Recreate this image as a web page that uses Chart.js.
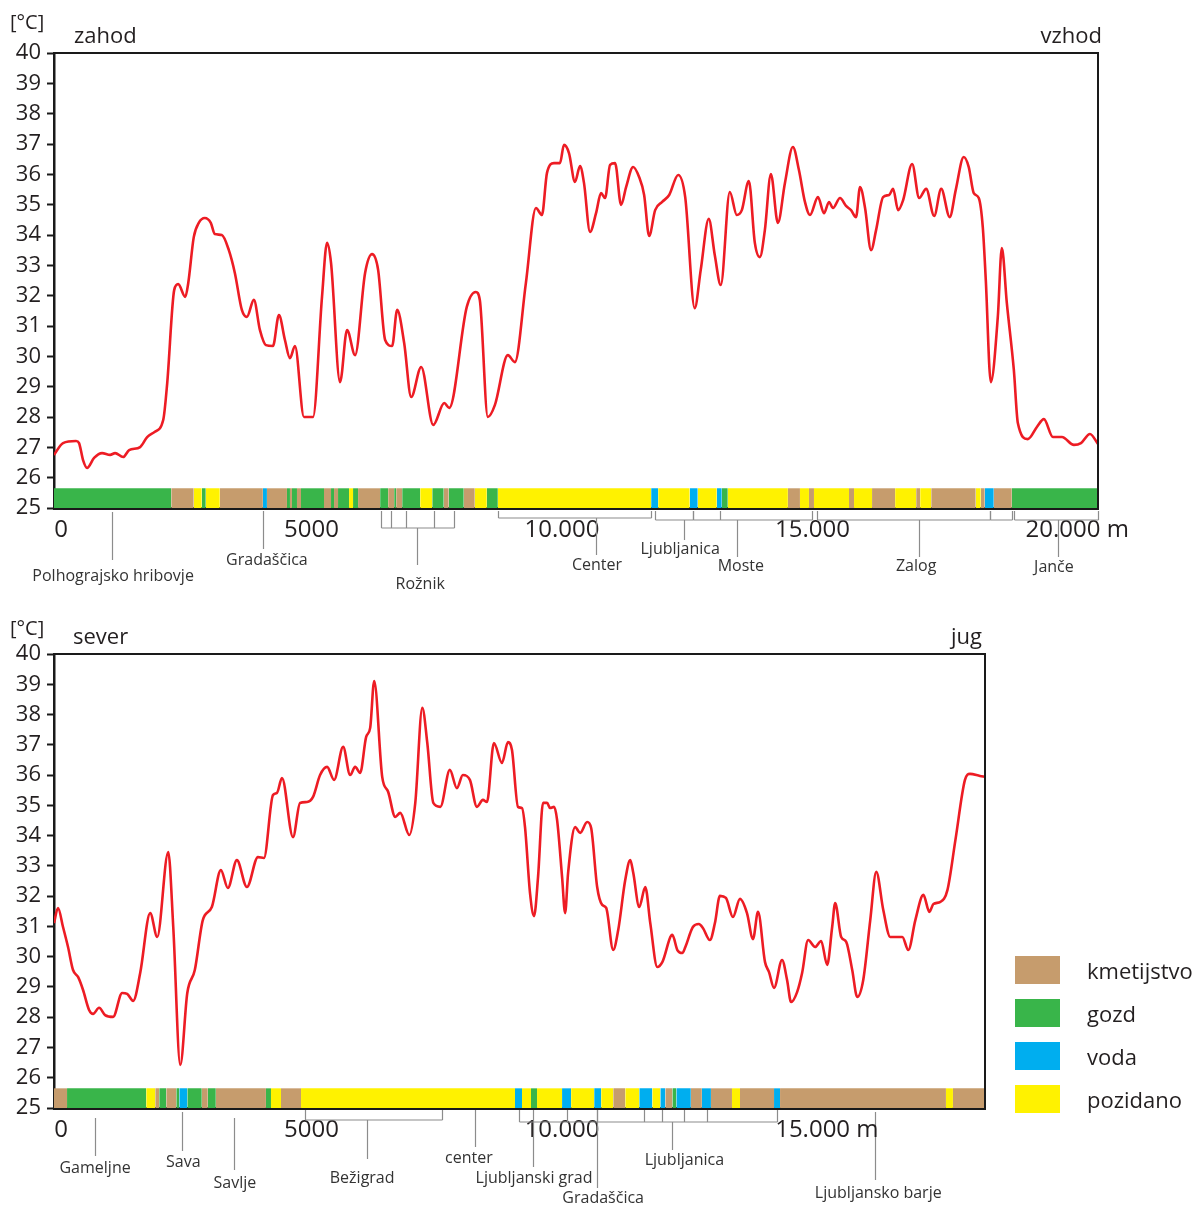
<!DOCTYPE html>
<html><head><meta charset="utf-8">
<script src="https://cdn.jsdelivr.net/npm/chart.js@4.4.1/dist/chart.umd.min.js"></script>
<style>
html,body{margin:0;padding:0;background:#fff;}
body{width:1202px;height:1207px;position:relative;overflow:hidden;font-family:'Open Sans',sans-serif;color:#231f20;}
.wrap{position:absolute;left:0;}
canvas{display:block;}
.t{position:absolute;white-space:nowrap;line-height:1;}
.lg{position:absolute;left:1015px;width:45px;height:28px;}
</style></head>
<body>
<div class="wrap" style="top:0"><canvas id="chartTop" width="1202" height="600"></canvas></div>
<div class="wrap" style="top:600px"><canvas id="chartBot" width="1202" height="607"></canvas></div>

<div class="t" style="left:10px;top:12px;font-size:20px;">[°C]</div>
<div class="t" style="left:74px;top:23px;font-size:22px;">zahod</div>
<div class="t" style="right:100px;top:23px;font-size:22px;">vzhod</div>
<div class="t" style="left:10px;top:618px;font-size:20px;">[°C]</div>
<div class="t" style="left:73px;top:624px;font-size:22px;">sever</div>
<div class="t" style="right:220px;top:624px;font-size:22px;">jug</div>

<div id="legend"></div>

<script>
// ---------------- DATA ----------------
// West–east transect (zahod – vzhod): distance [m], surface temperature [°C]
const topDist = [-140,40,300,360,440,520,660,820,980,1080,
1240,1360,1580,1720,1860,2040,2120,2260,2340,2480,
2540,2650,2750,2870,2990,3070,3210,3350,3470,3610,
3710,3850,3970,4090,4230,4350,4470,4570,4670,4850,
5030,5210,5310,5390,5570,5710,5870,6070,6210,6330,
6470,6610,6710,6850,6990,7190,7430,7650,7750,8100,
8280,8360,8520,8660,8920,9060,9280,9480,9600,9700,
9840,9960,10040,10140,10260,10360,10440,10560,10680,10780,
10860,10960,11060,11180,11280,11420,11540,11640,11740,11860,
12000,12140,12320,12460,12650,12770,12930,13050,13170,13350,
13490,13590,13730,13850,13950,14050,14170,14310,14450,14610,
14730,14850,14950,15110,15230,15330,15410,15550,15670,15770,
15870,15950,16050,16170,16270,16410,16530,16610,16710,16810,
16990,17130,17270,17430,17570,17740,17860,18020,18120,18220,
18320,18400,18460,18560,18700,18780,18880,19020,19100,19300,
19480,19620,19800,19980,20220,20360,20540,20700];
const topTemp = [26.75,27.14,27.21,27.14,26.58,26.32,26.65,26.81,26.75,26.81,
26.68,26.91,27.01,27.34,27.5,27.9,29.12,32.19,32.38,31.96,
32.42,33.93,34.4,34.56,34.4,34.03,34.0,33.5,32.75,31.53,
31.3,31.86,30.87,30.37,30.34,31.36,30.54,29.94,30.34,28.0,
28.0,31.96,33.74,33.08,29.15,30.87,30.04,32.75,33.37,32.85,
30.54,30.34,31.53,30.44,28.66,29.65,27.74,28.46,28.3,31.63,
32.12,31.86,28.0,28.39,30.04,29.81,32.42,34.89,34.66,36.04,
36.37,36.37,36.97,36.7,35.75,36.27,35.71,34.1,34.72,35.38,
35.22,36.31,36.37,34.99,35.58,36.24,35.91,35.32,33.97,34.82,
35.09,35.32,35.98,35.25,31.59,32.85,34.53,33.34,32.35,35.42,
34.66,34.82,35.78,33.74,33.27,34.16,36.01,34.4,35.71,36.9,
36.14,35.09,34.66,35.25,34.72,35.09,34.89,35.22,34.96,34.82,
34.59,35.58,34.89,33.5,34.16,35.25,35.32,35.52,34.82,35.15,
36.34,35.22,35.52,34.63,35.52,34.59,35.48,36.57,36.24,35.38,
35.22,34.26,32.52,29.15,31.3,33.57,31.76,29.55,27.8,27.27,
27.67,27.93,27.34,27.34,27.08,27.14,27.44,27.11];

// North–south transect (sever – jug)
const botDist = [-140,-60,40,140,240,340,440,560,640,760,
880,1040,1220,1320,1440,1580,1780,1920,2140,2240,
2380,2520,2670,2830,3010,3190,3330,3510,3710,3930,
4050,4230,4310,4410,4630,4770,4910,5030,5170,5310,
5450,5630,5770,5870,5970,6090,6170,6250,6410,6530,
6670,6770,6950,7070,7210,7310,7430,7570,7760,7900,
8020,8160,8300,8420,8500,8640,8800,8920,9000,9120,
9200,9260,9360,9440,9520,9620,9700,9760,9840,9900,
10000,10060,10120,10260,10360,10500,10580,10700,10800,10880,
11020,11120,11260,11360,11420,11540,11660,11760,11900,12000,
12200,12300,12400,12460,12610,12730,12810,12950,13050,13150,
13270,13410,13550,13690,13810,13910,14050,14130,14230,14390,
14490,14570,14690,14790,14910,15050,15170,15290,15390,15450,
15570,15670,15790,15890,16010,16150,16270,16410,16550,16690,
16790,16910,17050,17210,17330,17410,17550,17690,17850,18040,
18140,18340,18440];
const botTemp = [31.11,31.61,30.98,30.32,29.56,29.33,28.9,28.24,28.11,28.31,
28.07,28.01,28.8,28.77,28.54,29.46,31.44,30.65,33.46,30.98,
26.42,28.8,29.56,31.21,31.64,32.86,32.27,33.19,32.3,33.29,
33.26,35.34,35.41,35.9,33.95,35.08,35.11,35.28,36.0,36.27,
35.84,36.93,36.0,36.27,36.07,37.26,37.56,39.11,35.94,35.44,
34.62,34.75,34.02,35.08,38.22,37.06,35.08,34.95,36.17,35.57,
36.0,35.84,34.95,35.18,35.11,37.06,36.4,37.09,36.83,34.95,
34.91,34.28,32.1,31.34,32.63,35.08,35.08,34.91,34.95,34.52,
32.63,31.44,32.77,34.28,34.09,34.45,34.25,32.3,31.71,31.61,
30.22,30.88,32.53,33.19,32.77,31.64,32.3,31.11,29.66,29.82,
30.72,30.22,30.12,30.32,30.98,31.08,30.95,30.55,31.11,32.01,
31.94,31.31,31.91,31.44,30.58,31.48,29.82,29.49,28.97,29.89,
29.23,28.5,28.83,29.46,30.55,30.32,30.52,29.73,30.98,31.77,
30.65,30.49,29.56,28.67,29.23,31.21,32.8,31.54,30.65,30.65,
30.65,30.22,31.21,32.04,31.48,31.74,31.81,32.2,33.86,35.84,
36.04,35.97,35.94];

// Land use strips: boundaries [m] and class code per segment
// k = kmetijstvo, g = gozd, v = voda, p = pozidano
const topLandEdges = [-140,2200,2650,2810,2890,3170,4030,4110,4510,4570,4610,4710,4790,5250,5390,5450,5530,5750,5830,5930,6370,6530,6650,6690,6810,7170,7410,7640,7740,8040,8260,8500,8720,11780,11920,12550,12710,13090,13190,13310,14510,14750,14930,15030,15730,15830,16190,16650,17070,17150,17370,18260,18360,18440,18620,18980,20700];
const topLandUse = ['g','k','p','g','p','k','v','k','g','k','g','k','g','k','g','k','g','p','g','k','g','k','g','k','g','p','g','k','g','k','p','g','p','v','p','v','p','v','g','p','k','p','k','p','k','p','k','p','k','p','k','p','k','v','k','g'];
const botLandEdges = [-140,120,1700,1880,1960,2100,2300,2360,2520,2810,2930,3090,4090,4190,4390,4790,9060,9200,9380,9500,10000,10180,10640,10780,11020,11260,11540,11800,11960,12060,12200,12280,12570,12790,12970,13390,13550,14230,14350,17660,17800,18440];
const botLandUse = ['k','g','p','k','g','k','g','v','g','k','g','k','g','p','k','p','v','p','g','p','v','p','v','p','k','p','v','p','v','k','g','v','k','v','k','p','k','v','k','p','k'];

const landCodes = ['k','g','v','p'];
const landNames = ['kmetijstvo','gozd','voda','pozidano'];
const landColors = {k:'#C69C6D', g:'#39B54A', v:'#00AEEF', p:'#FFF200'};

const yTicks = [25,26,27,28,29,30,31,32,33,34,35,36,37,38,39,40];
const topXTicks = [0,5000,10000,15000,20000];
const topXLabels = ['0','5000','10.000','15.000','20.000'];
const botXTicks = [0,5000,10000,15000];
const botXLabels = ['0','5000','10.000','15.000'];
const xUnit = ' m';

// place-name annotations (positions along transect in m)
const topMarks = [
 {label:'Polhograjsko hribovje', lx:1040, ly:68, stem:1020, s:[4,52]},
 {label:'Gradaščica', lx:4110, ly:52, stem:4030, s:[3,41]},
 {label:'Rožnik', lx:7170, ly:76, stem:7110, s:[20,57], br:[6390,7840], bt:[6590,6890,7450], b:[3,20]},
 {label:'Center', lx:10700, ly:57, stem:10680, s:[10,47], br:[8720,11780], b:[3,10]},
 {label:'Ljubljanica', lx:12360, ly:41, stem:12440, s:[12,32], br:[11860,12620], b:[3,12]},
 {label:'Moste', lx:13570, ly:58, stem:13490, s:[12,49], br:[12620,14990], bt:[13150], b:[3,12]},
 {label:'Zalog', lx:17070, ly:58, stem:17130, s:[12,49], br:[15090,18540], b:[3,12]},
 {label:'', br:[18540,18980], b:[3,12]},
 {label:'Janče', lx:19820, ly:59, stem:19900, s:[12,49], br:[19020,20700], b:[3,12]}
];
const botMarks = [
 {label:'Gameljne', lx:680, ly:60, stem:680, s:[10,48]},
 {label:'Sava', lx:2440, ly:54, stem:2420, s:[4,43]},
 {label:'Savlje', lx:3470, ly:75, stem:3450, s:[10,62]},
 {label:'Bežigrad', lx:6010, ly:70, stem:6110, s:[12,51], br:[4870,7600], b:[2,12]},
 {label:'center', lx:8140, ly:50, stem:8260, s:[2,39]},
 {label:'', br:[9140,14290], bt:[10100,10700,11640,12000,12440,12890], b:[2,14]},
 {label:'Ljubljanski grad', lx:9440, ly:70, stem:9420, s:[2,59]},
 {label:'Gradaščica', lx:10820, ly:90, stem:10700, s:[2,80]},
 {label:'Ljubljanica', lx:12440, ly:52, stem:12200, s:[14,42]},
 {label:'Ljubljansko barje', lx:16310, ly:85, stem:16250, s:[4,72]}
];

// ---------------- CHARTS ----------------
const STRIP_TOP = 25.65;
const FONT = "'Open Sans', sans-serif";
const TXT = '#231f20';

function framePlugin(){
  return {id:'frame', afterDatasetsDraw(chart){
    const {ctx, chartArea:a} = chart;
    ctx.save(); ctx.strokeStyle='#1a1a1a'; ctx.lineWidth=2;
    ctx.beginPath(); ctx.moveTo(a.left,a.top); ctx.lineTo(a.right,a.top); ctx.lineTo(a.right,a.bottom); ctx.stroke();
    ctx.restore();
  }};
}
function marksPlugin(marks){
  return {id:'marks', afterDraw(chart){
    const {ctx} = chart; const xs = chart.scales.x; const y0 = chart.chartArea.bottom;
    const P = v => Math.round(xs.getPixelForValue(v)) + 0.5;
    ctx.save();
    ctx.strokeStyle='#8c8c8c'; ctx.lineWidth=1.2;
    marks.forEach(m=>{
      if (m.br){
        const a=P(m.br[0]), b=P(m.br[1]);
        ctx.beginPath();
        [m.br[0], ...(m.bt||[]), m.br[1]].forEach(v=>{ const x=P(v); ctx.moveTo(x,y0+m.b[0]); ctx.lineTo(x,y0+m.b[1]); });
        ctx.moveTo(a,y0+m.b[1]); ctx.lineTo(b,y0+m.b[1]);
        ctx.stroke();
      }
      if (m.stem!==undefined){
        const x=P(m.stem); ctx.beginPath(); ctx.moveTo(x,y0+m.s[0]); ctx.lineTo(x,y0+m.s[1]); ctx.stroke();
      }
      if (m.label){
        ctx.fillStyle='#333'; ctx.font="16px "+FONT; ctx.textAlign='center'; ctx.textBaseline='middle';
        ctx.fillText(m.label, xs.getPixelForValue(m.lx), y0+m.ly);
      }
    });
    // unit after last x tick label
    const items = xs._labelItems || xs.getLabelItems(chart.chartArea);
    const it = items[items.length-1];
    if (it){
      ctx.font = it.font.string; ctx.fillStyle=TXT;
      const w = ctx.measureText(it.label).width;
      ctx.textAlign='left'; ctx.textBaseline=it.options.textBaseline;
      ctx.fillText(xUnit, it.options.translation[0]+w/2, it.options.translation[1]+it.textOffset);
    }
    ctx.restore();
  }};
}

function makeChart(id, dist, temp, edges, uses, xMax, xTicks, xLabels, marks, pad){
  const datasets = [{
    type:'line', data: dist.map((d,i)=>({x:d, y:temp[i]})),
    borderColor:'#ED1C24', borderWidth:2.6, pointRadius:0, cubicInterpolationMode:'monotone',
    fill:false, order:0
  }];
  for (let i=0;i<uses.length;i++){
    datasets.push({type:'line', data:[{x:edges[i],y:STRIP_TOP},{x:edges[i+1],y:STRIP_TOP}],
      borderWidth:0, borderColor:'rgba(0,0,0,0)', pointRadius:0, tension:0,
      fill:{value:25}, backgroundColor:landColors[uses[i]], order:1});
  }
  return new Chart(document.getElementById(id), {
    type:'line',
    data:{datasets},
    options:{
      responsive:false, animation:false, devicePixelRatio:1,
      layout:{padding:{left:0, top:pad.top, right:pad.right, bottom:0}},
      plugins:{legend:{display:false}, tooltip:{enabled:false}},
      events:[],
      scales:{
        x:{type:'linear', min:-140, max:xMax,
           afterBuildTicks:s=>{ s.ticks = xTicks.map(v=>({value:v})); },
           afterFit:s=>{ s.height = pad.xh; },
           grid:{display:true, drawOnChartArea:false, drawTicks:false},
           border:{display:true, color:'#1a1a1a', width:3},
           ticks:{padding:8, color:TXT, font:{family:FONT, size:24}, autoSkip:false, maxRotation:0,
             callback:(v)=>{ const i = xTicks.indexOf(v); return i>=0 ? xLabels[i] : ''; }}
        },
        y:{type:'linear', min:25, max:40,
           afterBuildTicks:s=>{ s.ticks = yTicks.map(v=>({value:v})); },
           afterFit:s=>{ s.width = 54; },
           grid:{drawOnChartArea:false, drawTicks:true, tickLength:7, tickWidth:2, tickColor:'#1a1a1a'},
           border:{display:true, color:'#1a1a1a', width:2.5},
           ticks:{padding:6, color:TXT, font:{family:FONT, size:22}, autoSkip:false}
        }
      }
    },
    plugins:[framePlugin(), marksPlugin(marks)]
  });
}

makeChart('chartTop', topDist, topTemp, topLandEdges, topLandUse, 20700, topXTicks, topXLabels, topMarks, {top:53, right:104, xh:92});
makeChart('chartBot', botDist, botTemp, botLandEdges, botLandUse, 18440, botXTicks, botXLabels, botMarks, {top:54, right:217, xh:99});

// legend
const lg = document.getElementById('legend');
landCodes.forEach((c,i)=>{
  const top = 956 + i*43;
  const b = document.createElement('div'); b.className='lg'; b.style.top=top+'px'; b.style.background=landColors[c]; lg.appendChild(b);
  const t = document.createElement('div'); t.className='t'; t.style.left='1087px'; t.style.top=(top+3)+'px'; t.style.fontSize='22px'; t.textContent=landNames[i]; lg.appendChild(t);
});
</script>
</body></html>
